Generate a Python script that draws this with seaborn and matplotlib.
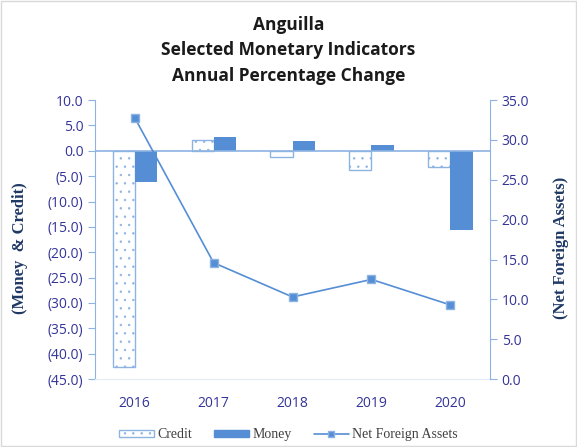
import pandas as pd
import matplotlib
matplotlib.use('Agg')
import matplotlib.pyplot as plt
import seaborn as sns
from matplotlib.patches import Patch, Rectangle
from matplotlib.lines import Line2D

years = ['2016', '2017', '2018', '2019', '2020']
credit = [-42.6, 2.2, -1.3, -3.7, -3.1]
money = [-6.1, 2.8, 2.0, 1.2, -15.6]
nfa = [32.8, 14.6, 10.3, 12.5, 9.3]

left_ticks = [10, 5, 0, -5, -10, -15, -20, -25, -30, -35, -40, -45]
right_ticks = [0, 5, 10, 15, 20, 25, 30, 35]

EDGE = '#8DB3E2'
MONEY = '#558ED5'
TICK_COL = '#333399'
LABEL_COL = '#1F3864'


def fmt(v):
    return f'({abs(v):.1f})' if v < 0 else f'{v:.1f}'


def main():
    sns.set_style('white')
    plt.rcParams['hatch.color'] = EDGE
    plt.rcParams['hatch.linewidth'] = 0.5

    df = pd.DataFrame({
        'year': years * 2,
        'value': credit + money,
        'series': ['Credit'] * 5 + ['Money'] * 5,
    })

    fig = plt.figure(figsize=(5.77, 4.47), dpi=100)
    ax = fig.add_axes([0.165, 0.152, 0.684, 0.624])

    sns.barplot(data=df, x='year', y='value', hue='series', ax=ax,
                palette={'Credit': 'white', 'Money': MONEY},
                width=0.56, legend=False, saturation=1)
    for bar in ax.patches[:5]:
        bar.set_hatch('..')
        bar.set_edgecolor(EDGE)
        bar.set_linewidth(1.0)
    for bar in ax.patches[5:10]:
        bar.set_edgecolor('none')

    ax.set_ylim(-45, 10)
    ax.set_xlim(-0.5, 4.5)
    ax.set_yticks(left_ticks)
    ax.set_yticklabels([fmt(v) for v in left_ticks])
    ax.axhline(0, color=EDGE, lw=1.2, zorder=1)
    ax.set_xlabel('')
    ax.set_ylabel('')

    ax2 = ax.twinx()
    sns.lineplot(x=list(range(5)), y=nfa, ax=ax2, color=MONEY, lw=1.2,
                 marker='s', markersize=6, markeredgecolor='#8DB3E2',
                 markeredgewidth=1.0)
    ax2.set_ylim(0, 35)
    ax2.set_yticks(right_ticks)
    ax2.set_yticklabels([fmt(v) for v in right_ticks])
    ax2.set_ylabel('')

    fig.text(20 / 577, 1 - 248 / 447, '(Money  & Credit)', family='Liberation Serif',
             fontweight='bold', fontsize=12, color=LABEL_COL, rotation=90,
             ha='center', va='center')
    fig.text(561 / 577, 1 - 248 / 447, '(Net Foreign Assets)', family='Liberation Serif',
             fontweight='bold', fontsize=12, color=LABEL_COL, rotation=90,
             ha='center', va='center')

    for a in (ax, ax2):
        for s in a.spines.values():
            s.set_visible(False)
        a.tick_params(axis='y', length=5, color=EDGE, labelcolor=TICK_COL,
                      labelsize=10, direction='out')
        a.tick_params(axis='x', length=0, labelcolor=TICK_COL, labelsize=10,
                      pad=12)
        for lab in a.get_yticklabels() + a.get_xticklabels():
            lab.set_family('Open Sans')
    ax.spines['left'].set_visible(True)
    ax.spines['left'].set_color(EDGE)
    ax2.spines['right'].set_visible(True)
    ax2.spines['right'].set_color(EDGE)
    ax.spines['bottom'].set_visible(True)
    ax.spines['bottom'].set_color('#E3EBF5')
    ax.tick_params(axis='y', left=True)
    ax2.tick_params(axis='y', right=True)

    fig.text(0.5, 0.965, 'Anguilla\nSelected Monetary Indicators\nAnnual Percentage Change',
             ha='center', va='top', fontsize=12.5, fontweight='bold',
             family='Open Sans', color='#1a1a1a', linespacing=1.55)

    handles = [
        Patch(facecolor='white', edgecolor=EDGE, hatch='..', label='Credit'),
        Patch(facecolor=MONEY, edgecolor=MONEY, label='Money'),
        Line2D([0], [0], color=MONEY, marker='s', markersize=5,
               markeredgecolor=EDGE, lw=1.2, label='Net Foreign Assets'),
    ]
    fig.legend(handles=handles, loc='center', bbox_to_anchor=(0.5, 0.027),
               ncol=3, frameon=False, handlelength=2.5, handleheight=0.5,
               columnspacing=1.6, handletextpad=0.25,
               prop={'family': 'Liberation Serif', 'size': 10},
               labelcolor='#404040')

    fig.patches.append(Rectangle((0.002, 0.002), 0.996, 0.996,
                                 transform=fig.transFigure, fill=False,
                                 edgecolor='#D9D9D9', lw=1))
    fig.savefig('out.png', dpi=100)


if __name__ == '__main__':
    main()
